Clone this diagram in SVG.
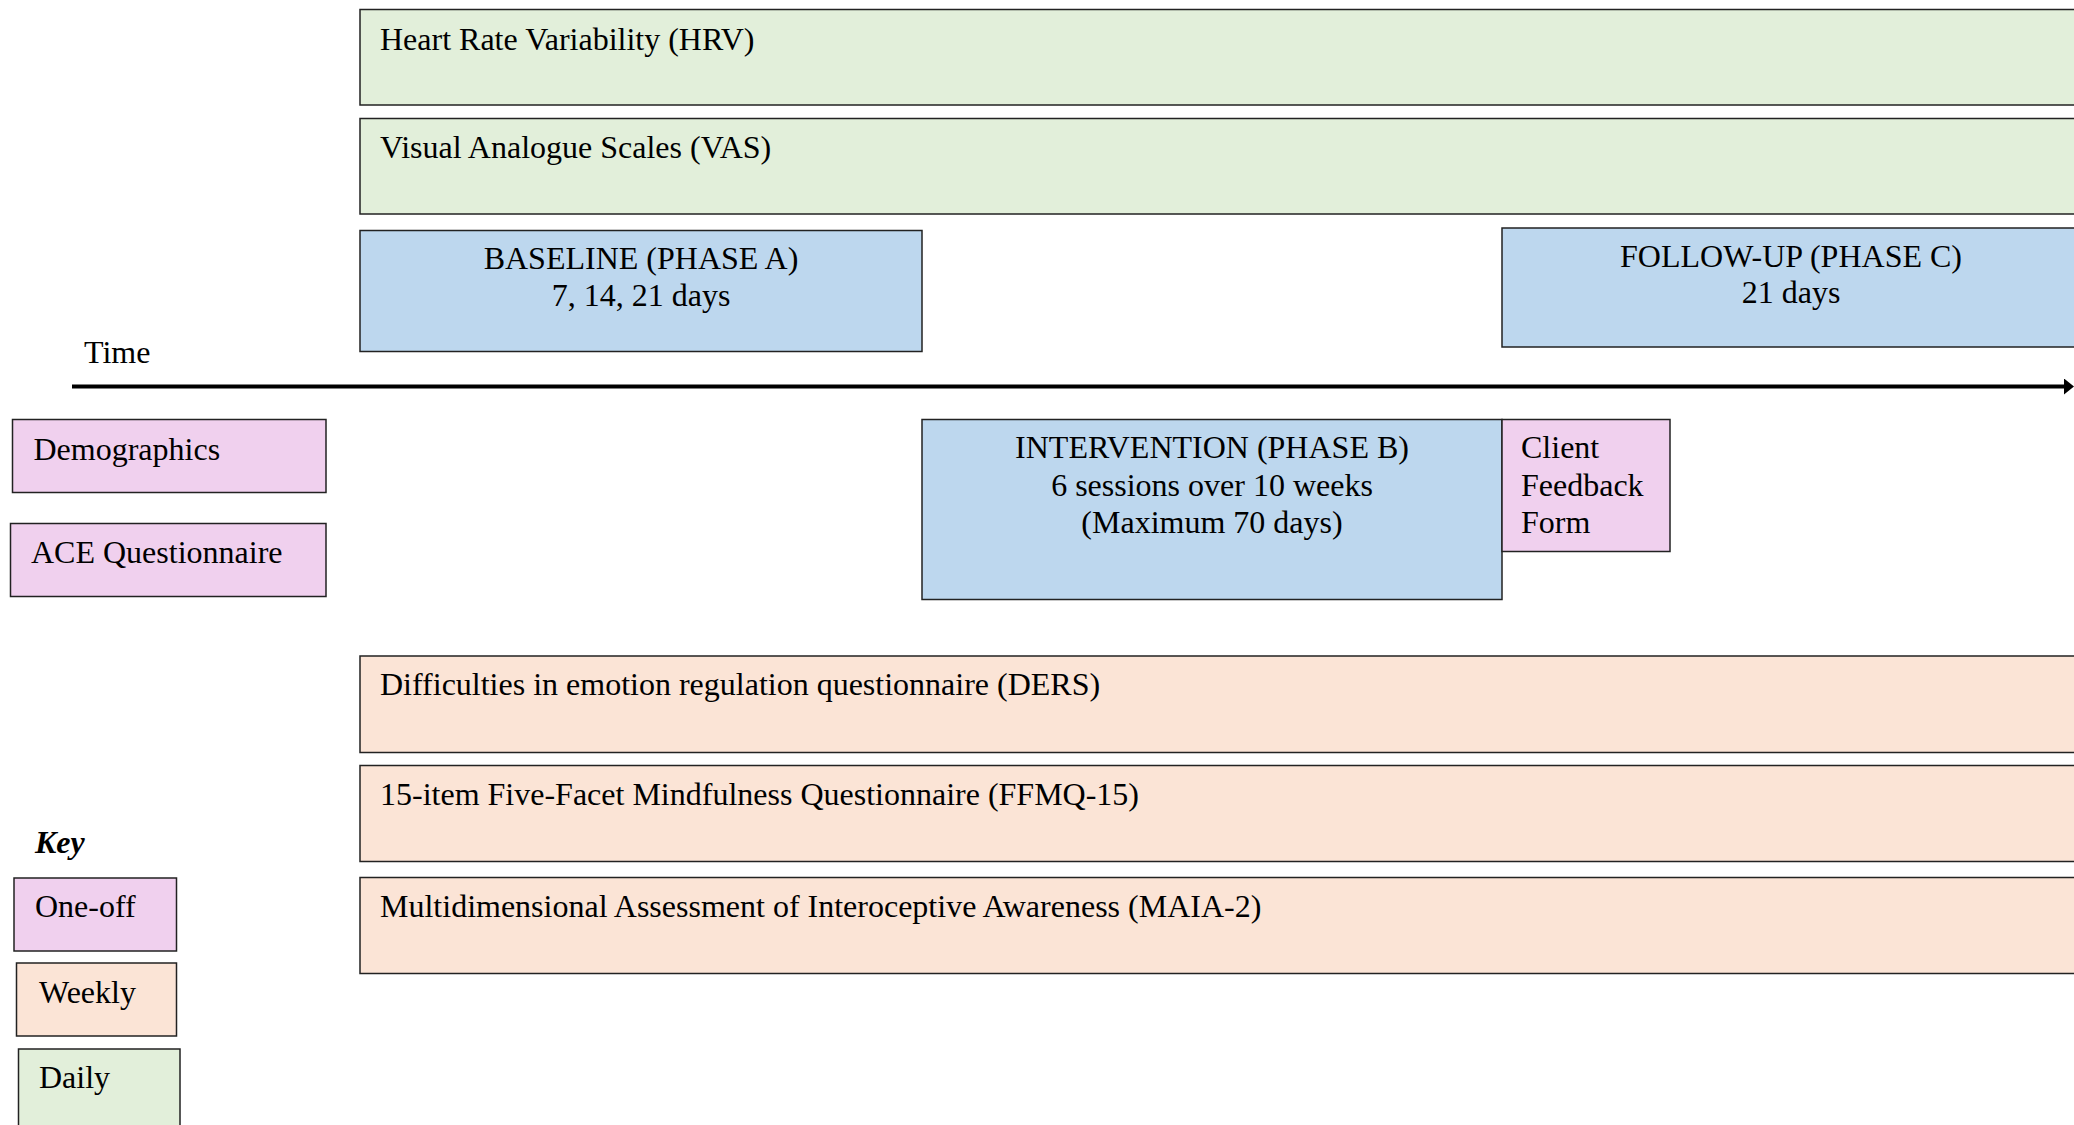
<svg xmlns="http://www.w3.org/2000/svg" width="2074" height="1125" viewBox="0 0 2074 1125">
<defs>
<style>
text{font-family:"Liberation Serif","Times New Roman",serif;font-size:32px;fill:#000}
.b{stroke:#222;stroke-width:1.5}
.daily{fill:#E2EFDA}
.weekly{fill:#FBE4D6}
.once{fill:#F0D0EE}
.phase{fill:#BDD7EE}
.c{text-anchor:middle}
</style>
<marker id="arr" markerWidth="4" markerHeight="5" refX="0" refY="2" orient="auto" markerUnits="strokeWidth">
<path d="M0,0 L2.5,2 L0,4 Z" fill="#000"/>
</marker>
</defs>
<rect width="2074" height="1125" fill="#fff"/>
<g id="connectors">
<line x1="72" y1="386.5" x2="2064" y2="386.5" stroke="#000" stroke-width="4" marker-end="url(#arr)"/>
</g>
<text x="84" y="363">Time</text>
<g id="hrv"><rect class="b daily" x="360" y="9.5" width="1720" height="95.5"/><text x="380" y="50">Heart Rate Variability (HRV)</text></g>
<g id="vas"><rect class="b daily" x="360" y="118.5" width="1720" height="95.5"/><text x="380" y="158">Visual Analogue Scales (VAS)</text></g>
<g id="baseline"><rect class="b phase" x="360" y="230.5" width="562" height="121"/><text class="c" x="641" y="269">BASELINE (PHASE A)</text><text class="c" x="641" y="306">7, 14, 21 days</text></g>
<g id="followup"><rect class="b phase" x="1502" y="228" width="578" height="119"/><text class="c" x="1791" y="266.5">FOLLOW-UP (PHASE C)</text><text class="c" x="1791" y="303">21 days</text></g>
<g id="intervention"><rect class="b phase" x="922" y="419.5" width="580" height="180"/><text class="c" x="1212" y="458">INTERVENTION (PHASE B)</text><text class="c" x="1212" y="496">6 sessions over 10 weeks</text><text class="c" x="1212" y="533">(Maximum 70 days)</text></g>
<g id="feedback"><rect class="b once" x="1502" y="419.5" width="168" height="132"/><text x="1521" y="458">Client</text><text x="1521" y="496">Feedback</text><text x="1521" y="533">Form</text></g>
<g id="demographics"><rect class="b once" x="12.5" y="419.5" width="313.5" height="73"/><text x="33.5" y="460">Demographics</text></g>
<g id="ace"><rect class="b once" x="10.5" y="523.5" width="315.5" height="73"/><text x="31" y="563">ACE Questionnaire</text></g>
<g id="ders"><rect class="b weekly" x="360" y="656" width="1720" height="96.5"/><text x="380" y="695">Difficulties in emotion regulation questionnaire (DERS)</text></g>
<g id="ffmq"><rect class="b weekly" x="360" y="765.5" width="1720" height="96"/><text x="380" y="805">15-item Five-Facet Mindfulness Questionnaire (FFMQ-15)</text></g>
<g id="maia"><rect class="b weekly" x="360" y="877.5" width="1720" height="96"/><text x="380" y="916.5">Multidimensional Assessment of Interoceptive Awareness (MAIA-2)</text></g>
<text x="35" y="852.5" font-weight="bold" font-style="italic">Key</text>
<g id="key-oneoff"><rect class="b once" x="14" y="878" width="162.5" height="73"/><text x="35" y="916.5">One-off</text></g>
<g id="key-weekly"><rect class="b weekly" x="16.5" y="963" width="160" height="73"/><text x="39" y="1002.5">Weekly</text></g>
<g id="key-daily"><rect class="b daily" x="18.5" y="1049" width="161.5" height="90"/><text x="39" y="1088">Daily</text></g>
</svg>
